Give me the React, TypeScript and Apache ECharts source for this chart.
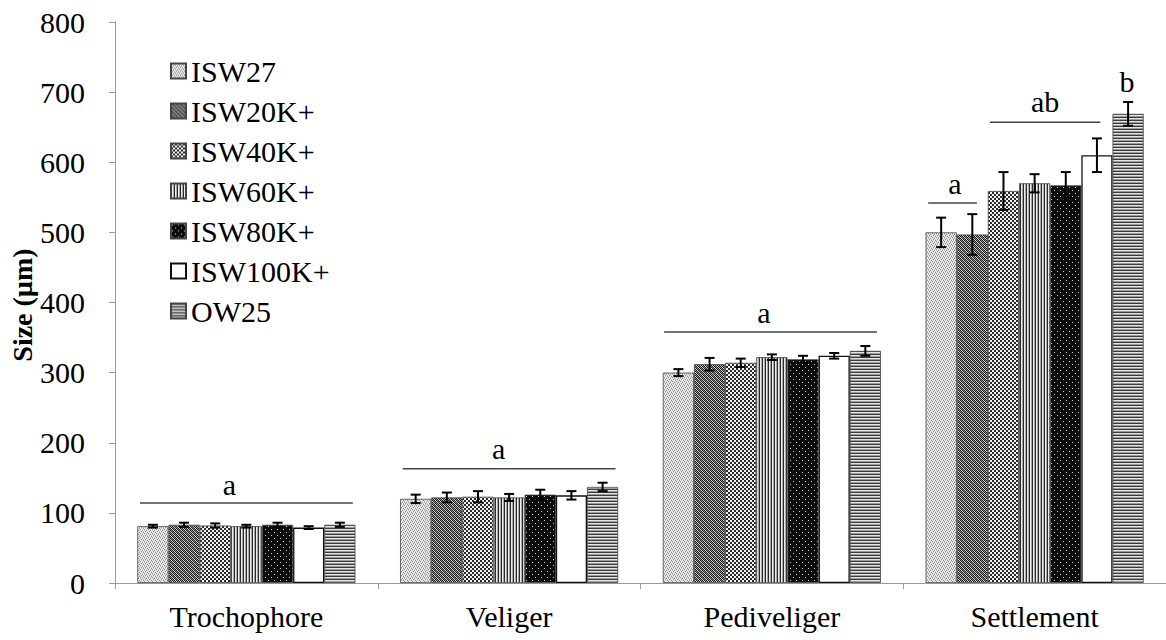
import React, { useEffect, useRef } from "react";
import * as echarts from "echarts";

const stages = ["Trochophore", "Veliger", "Pediveliger", "Settlement"];
const groupNames = ["ISW27", "ISW20K+", "ISW40K+", "ISW60K+", "ISW80K+", "ISW100K+", "OW25"];
const yAxisTitle = "Size (µm)";

// mean sizes (µm) per stage
const ISW27 = [81, 120, 300, 500];
const ISW20K = [83, 122, 312, 497];
const ISW40K = [82, 123, 314, 559];
const ISW60K = [81, 122, 322, 570];
const ISW80K = [83, 126, 319, 567];
const ISW100K = [79, 125, 324, 610];
const OW25 = [83, 137, 331, 669];

// error bars
const ISW27_err = [2, 6, 5, 21];
const ISW20K_err = [3, 7, 9, 29];
const ISW40K_err = [3, 8, 6, 27];
const ISW60K_err = [2, 5, 4, 13];
const ISW80K_err = [3, 7, 5, 19];
const ISW100K_err = [2, 6, 4, 24];
const OW25_err = [3, 6, 7, 17];

const yTicks = [0, 100, 200, 300, 400, 500, 600, 700, 800];

// significance lines: from/to in category units (0..4), y in µm
const sigLines = [
  { from: 0.095, to: 0.905, y: 114 },
  { from: 1.095, to: 1.905, y: 163 },
  { from: 2.09, to: 2.9, y: 358 },
  { from: 3.095, to: 3.28, y: 542 },
  { from: 3.33, to: 3.75, y: 657 },
];
const sigLetters = [
  { x: 0.435, y: 141, text: "a" },
  { x: 1.46, y: 192, text: "a" },
  { x: 2.47, y: 386, text: "a" },
  { x: 3.197, y: 569, text: "a" },
  { x: 3.54, y: 686, text: "ab" },
  { x: 3.852, y: 715, text: "b" },
];

const values = [ISW27, ISW20K, ISW40K, ISW60K, ISW80K, ISW100K, OW25];
const errors = [ISW27_err, ISW20K_err, ISW40K_err, ISW60K_err, ISW80K_err, ISW100K_err, OW25_err];

const GAP = 0.17;
const FONT = "Liberation Serif";

function bitmapPattern(rows: string[], colors: Record<string, string>) {
  const h = rows.length;
  const w = rows[0].length;
  const c = document.createElement("canvas");
  c.width = w;
  c.height = h;
  const ctx = c.getContext("2d")!;
  for (let y = 0; y < h; y++) {
    for (let x = 0; x < w; x++) {
      ctx.fillStyle = colors[rows[y][x]];
      ctx.fillRect(x, y, 1, 1);
    }
  }
  return { image: c, repeat: "repeat" } as any;
}

function makeFills() {
  return [
    bitmapPattern(["lmld", "dlml", "mldl", "ldlm"], { l: "#eeeeee", m: "#cacaca", d: "#8e8e8e" }),
    bitmapPattern(["kgkw", "wkgk", "kwkg", "gkwk"], { k: "#1e1e1e", g: "#8e8e8e", w: "#d8d8d8" }),
    bitmapPattern(["kkww", "kkww", "wwkk", "wwkk"], { k: "#2a2a2a", w: "#f2f2f2" }),
    bitmapPattern(["kwg"], { k: "#2a2a2a", w: "#ededed", g: "#a8a8a8" }),
    bitmapPattern(
      ["kkkkkk", "kwkkkk", "kkkkkk", "kkkkkk", "kkkkwk", "kkkkkk"],
      { k: "#0c0c0c", w: "#d0d0d0" }
    ),
    "#ffffff",
    bitmapPattern(["k", "w", "g"], { k: "#3a3a3a", w: "#e4e4e4", g: "#9c9c9c" }),
  ];
}

export default function App() {
  const ref = useRef<HTMLDivElement>(null);
  useEffect(() => {
    if (!ref.current) return;
    const chart = echarts.init(ref.current, undefined, { renderer: "svg" });
    const fills = makeFills();

    const barSeries = groupNames.map((name, i) => ({
      name,
      type: "bar",
      data: values[i],
      barGap: "0%",
      barCategoryGap: `${GAP * 100}%`,
      itemStyle: {
        color: fills[i],
        borderColor: i === 5 ? "#111" : "#444",
        borderWidth: i === 5 ? 1.3 : 0.8,
      },
      z: 2,
    }));

    const errData: number[][] = [];
    values.forEach((arr, s) => {
      arr.forEach((v, c) => errData.push([c, s, v, errors[s][c]]));
    });

    const errSeries = {
      type: "custom",
      name: "err",
      z: 5,
      silent: true,
      encode: { x: 0, y: 2 },
      data: errData,
      renderItem: (params: any, api: any) => {
        const c = api.value(0);
        const s = api.value(1);
        const v = api.value(2);
        const e = api.value(3);
        const catW = api.size([1, 0])[0];
        const groupW = catW * (1 - GAP);
        const barW = groupW / groupNames.length;
        const center = api.coord([c, v]);
        const x = center[0] - groupW / 2 + barW * (s + 0.5);
        const yT = api.coord([c, v + e])[1];
        const yB = api.coord([c, v - e])[1];
        const cap = 5;
        const st = { stroke: "#000", lineWidth: 2 };
        return {
          type: "group",
          children: [
            { type: "line", shape: { x1: x, y1: yT, x2: x, y2: yB }, style: st },
            { type: "line", shape: { x1: x - cap, y1: yT, x2: x + cap, y2: yT }, style: st },
            { type: "line", shape: { x1: x - cap, y1: yB, x2: x + cap, y2: yB }, style: st },
          ],
        };
      },
    };

    const lineSeries = {
      type: "custom",
      name: "sigLines",
      z: 6,
      silent: true,
      encode: { x: 0, y: 1 },
      data: sigLines.map((l) => [0, l.y]),
      renderItem: (params: any, api: any) => {
        const l = sigLines[params.dataIndex];
        const catW = api.size([1, 0])[0];
        const base = api.coord([0, l.y]);
        const x1 = base[0] + (l.from - 0.5) * catW;
        const x2 = base[0] + (l.to - 0.5) * catW;
        return {
          type: "line",
          shape: { x1, y1: base[1], x2, y2: base[1] },
          style: { stroke: "#444", lineWidth: 1.5 },
        };
      },
    };

    const letterSeries = {
      type: "custom",
      name: "sigLetters",
      z: 6,
      silent: true,
      encode: { x: 0, y: 1 },
      data: sigLetters.map((l) => [0, l.y]),
      renderItem: (params: any, api: any) => {
        const l = sigLetters[params.dataIndex];
        const catW = api.size([1, 0])[0];
        const base = api.coord([0, l.y]);
        return {
          type: "text",
          x: base[0] + (l.x - 0.5) * catW,
          y: base[1],
          style: {
            text: l.text,
            fontSize: 30,
            fontFamily: FONT,
            fill: "#000",
            align: "center",
            verticalAlign: "middle",
          },
        };
      },
    };

    chart.setOption({
      animation: false,
      backgroundColor: "#ffffff",
      textStyle: { fontFamily: FONT },
      grid: { left: 115, top: 22, width: 1056, bottom: 57, containLabel: false },
      legend: {
        data: groupNames,
        orient: "vertical",
        left: 165,
        top: 51,
        icon: "rect",
        itemWidth: 15,
        itemHeight: 15,
        itemGap: 10,
        textStyle: { fontFamily: FONT, fontSize: 30, color: "#000" },
      },
      graphic: [
        {
          type: "text",
          x: 22,
          y: 305,
          rotation: Math.PI / 2,
          style: {
            text: yAxisTitle,
            fontSize: 28,
            fontWeight: "bold",
            fontFamily: FONT,
            fill: "#000",
            align: "center",
            verticalAlign: "middle",
          },
        },
      ],
      xAxis: {
        type: "category",
        data: stages,
        axisLine: { lineStyle: { color: "#999", width: 1 } },
        axisTick: { show: true, length: 6, lineStyle: { color: "#999" } },
        axisLabel: { fontFamily: FONT, fontSize: 30, color: "#000", margin: 18 },
        splitLine: { show: false },
      },
      yAxis: {
        type: "value",
        min: 0,
        max: yTicks[yTicks.length - 1],
        interval: 100,
        axisLine: { show: true, lineStyle: { color: "#999", width: 1 } },
        axisTick: { show: true, length: 6, lineStyle: { color: "#999" } },
        axisLabel: { fontFamily: FONT, fontSize: 30, color: "#000", margin: 30 },
        splitLine: { show: false },
      },
      series: [...barSeries, errSeries, lineSeries, letterSeries],
    });
    return () => chart.dispose();
  }, []);
  return (
    <div
      ref={ref}
      style={{ position: "absolute", left: 0, top: 0, width: 1166, height: 640, background: "#fff" }}
    />
  );
}
